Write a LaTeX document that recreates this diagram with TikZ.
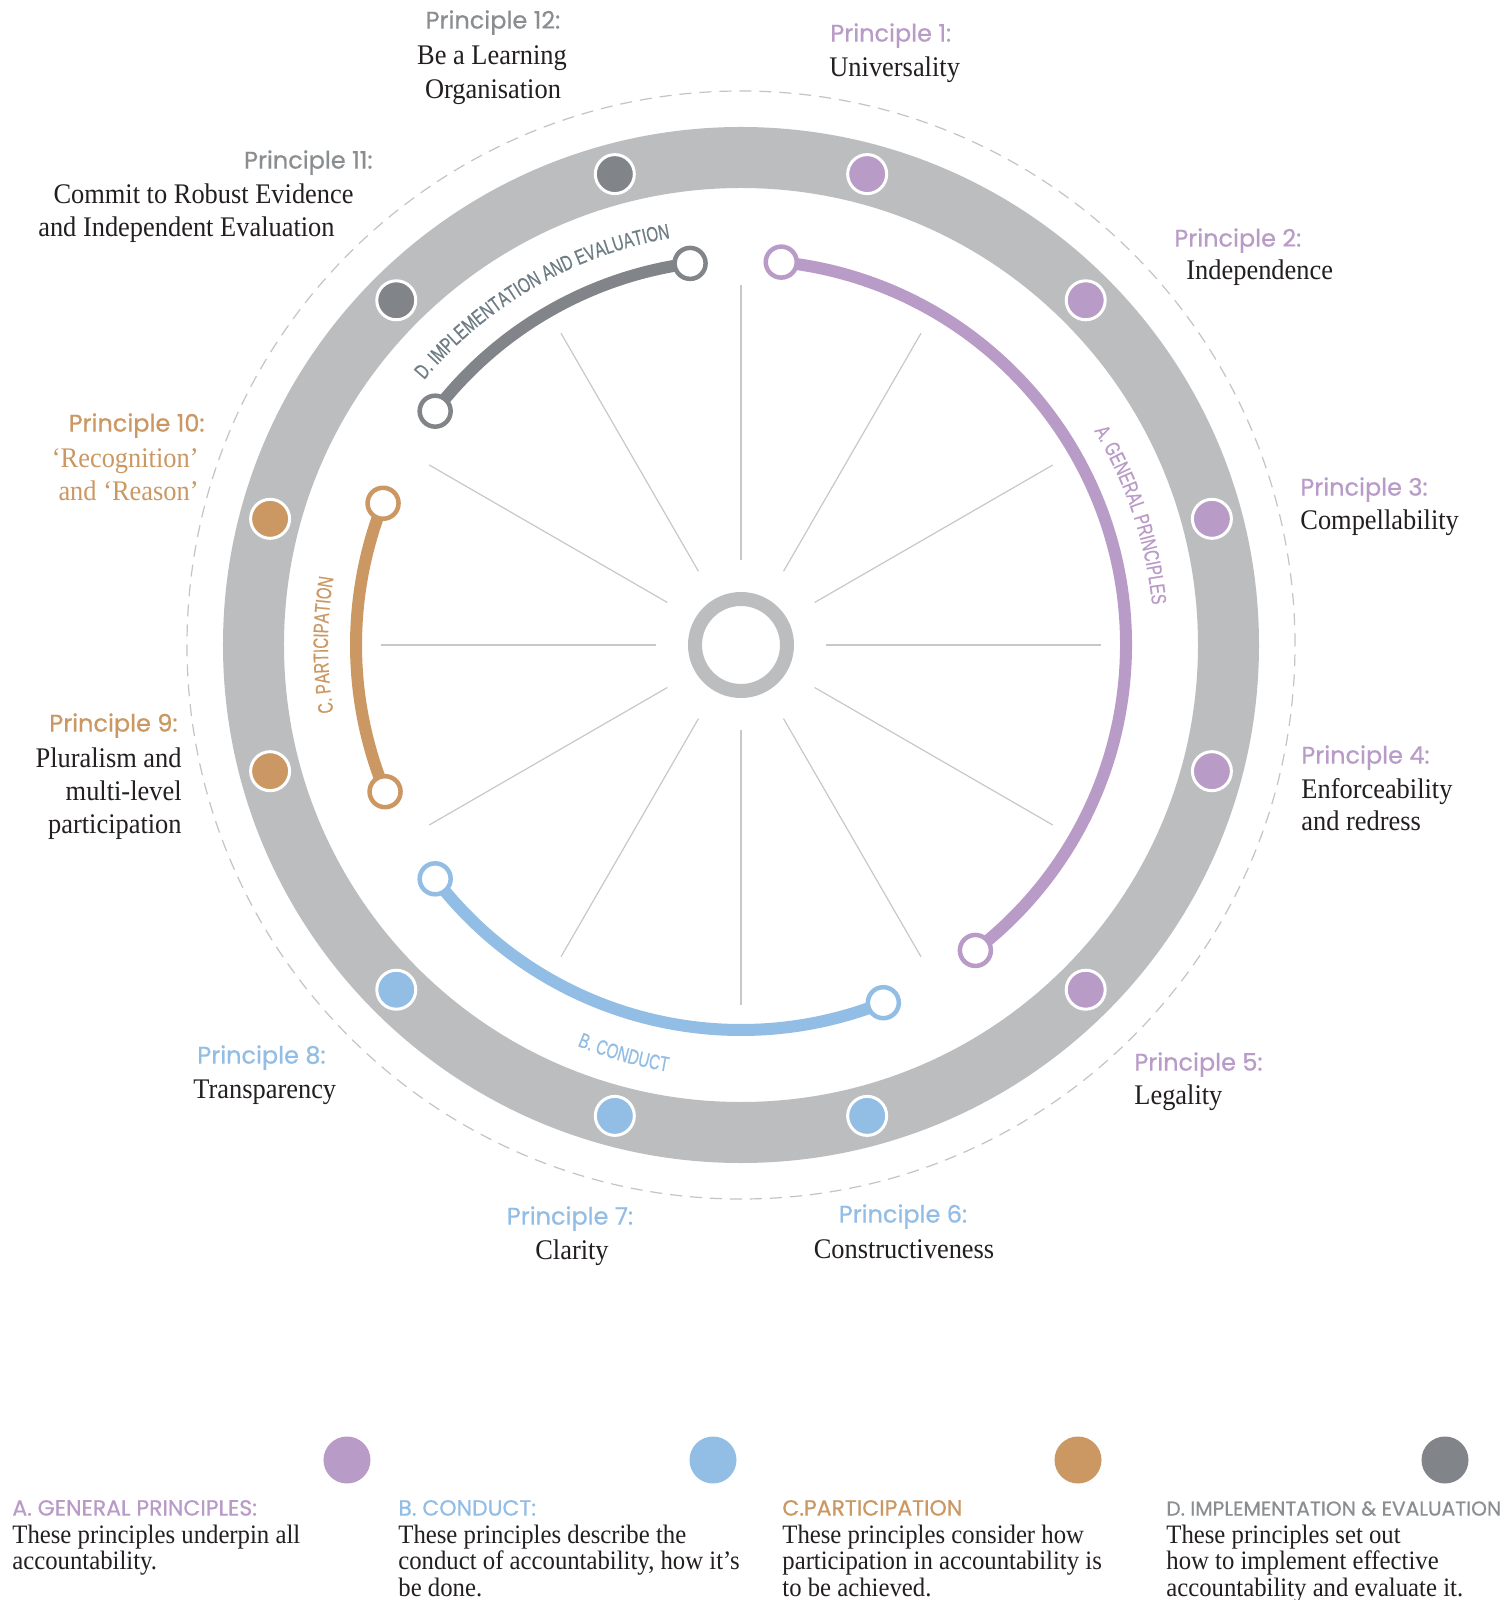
\documentclass[tikz,border=0pt]{standalone}
\usepackage{fontspec}
\setmainfont{Liberation Serif}
\newfontfamily\bodyfont[FakeStretch=0.93]{Liberation Serif}
\newfontfamily\headfont[FakeBold=0.6]{Poppins}
\newfontfamily\arcfont[FakeStretch=0.72, FakeBold=0.5]{Liberation Sans}
\usetikzlibrary{decorations.text}

\definecolor{cA}{HTML}{B99BC8}
\definecolor{cB}{HTML}{92BDE5}
\definecolor{cC}{HTML}{CB9762}
\definecolor{cD}{HTML}{818589}
\definecolor{hD}{HTML}{8B8E91}
\definecolor{dlabel}{HTML}{6E7D84}
\definecolor{ringgray}{HTML}{BCBDBF}
\definecolor{spokegray}{HTML}{C8C8C8}
\definecolor{dashgray}{HTML}{C4C4C4}
\definecolor{ink}{HTML}{231F20}

\tikzset{
  head/.style={font=\headfont\fontsize{12}{14}\selectfont, inner sep=0pt},
  body/.style={font=\bodyfont\fontsize{14.2}{17}\selectfont, text=ink, inner sep=0pt},
  leghead/.style={font=\headfont\fontsize{11}{13}\selectfont, inner sep=0pt, anchor=mid west},
  legbody/.style={font=\bodyfont\fontsize{13.3}{14}\selectfont, text=ink, inner sep=0pt, anchor=mid west},
  ringdot/.style={circle, draw=white, line width=1.5pt, minimum size=19.5pt, inner sep=0pt},
  endcap/.style={circle, fill=white, line width=2.25pt, minimum size=15.5pt, inner sep=0pt},
  legdot/.style={circle, minimum size=23.5pt, inner sep=0pt},
  band/.style={line width=6pt},
  spoke/.style={spokegray, line width=0.6pt},
  arclabel/.style={decorate, decoration={text along path, text align=center}},
}

\begin{document}
\begin{tikzpicture}[x=0.5pt, y=0.5pt]
\fill[white] (-741,-955) rectangle (765,645);
\useasboundingbox (-741,-955) rectangle (765,645);

% outer dashed guide circle
\draw[dashgray, line width=0.6pt, dash pattern=on 6pt off 4pt] (0,0) circle[radius=554];

% grey rim
\draw[ringgray, line width=30.5pt] (0,0) circle[radius=487.5];

% spokes
\foreach \a in {0,30,...,330}
  \draw[spoke] (\a:85) -- (\a:360);

% hub
\node[circle, draw=ringgray, line width=7pt, minimum size=46pt, inner sep=0pt] (hub) at (0,0) {};

% principle dots on the rim
\foreach \n/\a/\c in {1/75/cA, 2/45/cA, 3/15/cA, 4/-15/cA, 5/-45/cA,
                      6/-75/cB, 7/-105/cB, 8/-135/cB,
                      9/-165/cC, 10/165/cC, 11/135/cD, 12/105/cD}
  \node[ringdot, fill=\c] (dot\n) at (\a:487.5) {};

% group arcs
\draw[band, cA] (84:385) arc[start angle=84, end angle=-52.5, radius=385];
\draw[band, cB] (-142.6:385) arc[start angle=-142.6, end angle=-68.3, radius=385];
\draw[band, cC] (158.4:385) arc[start angle=158.4, end angle=202.4, radius=385];
\draw[band, cD] (142.6:385) arc[start angle=142.6, end angle=97.6, radius=385];

\node[endcap, draw=cA] (a1) at (84:385) {};
\node[endcap, draw=cA] (a2) at (-52.5:385) {};
\node[endcap, draw=cB] (b1) at (-142.6:385) {};
\node[endcap, draw=cB] (b2) at (-68.3:385) {};
\node[endcap, draw=cC] (c1) at (158.4:385) {};
\node[endcap, draw=cC] (c2) at (202.4:385) {};
\node[endcap, draw=cD] (e1) at (142.6:385) {};
\node[endcap, draw=cD] (e2) at (97.6:385) {};

% curved group captions
\path[arclabel, decoration={text={|\arcfont\fontsize{10.5}{12}\selectfont\color{cA}|A. GENERAL PRINCIPLES}}]
  (48.4:413) arc[start angle=48.4, end angle=-11.6, radius=413];
\path[arclabel, decoration={text={|\arcfont\fontsize{10.5}{12}\selectfont\color{dlabel}|D. IMPLEMENTATION AND EVALUATION}}]
  (155.5:413) arc[start angle=155.5, end angle=84.5, radius=413];
\path[arclabel, decoration={text={|\arcfont\fontsize{10.5}{12}\selectfont\color{cC}|C. PARTICIPATION}}]
  (205:413) arc[start angle=205, end angle=155, radius=413];
\path[arclabel, decoration={text={|\arcfont\fontsize{10.5}{12}\selectfont\color{cB}|B. CONDUCT}}]
  (-131:433) arc[start angle=-131, end angle=-81, radius=433];

% principle labels
\node[head, text=hD, anchor=mid] (h12) at (-248,621) {Principle 12:};
\node[body, anchor=mid] (t12a) at (-249,585) {Be a Learning};
\node[body, anchor=mid] (t12b) at (-248,551) {Organisation};

\node[head, text=cA, anchor=mid west] (h1) at (89,608) {Principle 1:};
\node[body, anchor=mid west] (t1) at (88,573) {Universality};

\node[head, text=hD, anchor=mid east] (h11) at (-368,481) {Principle 11:};
\node[body, anchor=mid east] (t11a) at (-387,446) {Commit to Robust Evidence};
\node[body, anchor=mid east] (t11b) at (-406,413) {and Independent Evaluation};

\node[head, text=cA, anchor=mid west] (h2) at (433,403) {Principle 2:};
\node[body, anchor=mid west] (t2) at (445,370) {Independence};

\node[head, text=cC, anchor=mid east] (h10) at (-536,218) {Principle 10:};
\node[body, text=cC, anchor=mid east] (t10a) at (-542,182) {‘Recognition’};
\node[body, text=cC, anchor=mid east] (t10b) at (-542,149) {and ‘Reason’};

\node[head, text=cA, anchor=mid west] (h3) at (559,154) {Principle 3:};
\node[body, anchor=mid west] (t3) at (559,120) {Compellability};

\node[head, text=cC, anchor=mid east] (h9) at (-563,-82) {Principle 9:};
\node[body, anchor=mid east] (t9a) at (-559,-118) {Pluralism and};
\node[body, anchor=mid east] (t9b) at (-559,-151) {multi-level};
\node[body, anchor=mid east] (t9c) at (-559,-184) {participation};

\node[head, text=cA, anchor=mid west] (h4) at (560,-114) {Principle 4:};
\node[body, anchor=mid west] (t4a) at (560,-149) {Enforceability};
\node[body, anchor=mid west] (t4b) at (560,-181) {and redress};

\node[head, text=cA, anchor=mid west] (h5) at (393,-421) {Principle 5:};
\node[body, anchor=mid west] (t5) at (393,-455) {Legality};

\node[head, text=cB, anchor=mid west] (h8) at (-544,-414) {Principle 8:};
\node[body, anchor=mid west] (t8) at (-548,-449) {Transparency};

\node[head, text=cB, anchor=mid] (h7) at (-171,-575) {Principle 7:};
\node[body, anchor=mid] (t7) at (-169,-610) {Clarity};

\node[head, text=cB, anchor=mid] (h6) at (162,-573) {Principle 6:};
\node[body, anchor=mid] (t6) at (163,-609) {Constructiveness};

% legend
\node[legdot, fill=cA] (kA) at (-394,-815) {};
\node[legdot, fill=cB] (kB) at (-28,-815) {};
\node[legdot, fill=cC] (kC) at (337,-815) {};
\node[legdot, fill=cD] (kD) at (704,-815) {};

\node[leghead, text=cA] (lA) at (-729,-866) {A. GENERAL PRINCIPLES:};
\node[legbody] (lA1) at (-729,-894) {These principles underpin all};
\node[legbody] (lA2) at (-729,-920) {accountability.};

\node[leghead, text=cB] (lB) at (-343,-866) {B. CONDUCT:};
\node[legbody] (lB1) at (-343,-894) {These principles describe the};
\node[legbody] (lB2) at (-343,-920) {conduct of accountability, how it’s};
\node[legbody] (lB3) at (-343,-947) {be done.};

\node[leghead, text=cC] (lC) at (41,-866) {C.PARTICIPATION};
\node[legbody] (lC1) at (41,-894) {These principles consider how};
\node[legbody] (lC2) at (41,-920) {participation in accountability is};
\node[legbody] (lC3) at (41,-947) {to be achieved.};

\node[leghead, text=hD, font=\headfont\fontsize{10.1}{12}\selectfont] (lD) at (425,-866) {D. IMPLEMENTATION \& EVALUATION};
\node[legbody] (lD1) at (425,-894) {These principles set out};
\node[legbody] (lD2) at (425,-920) {how to implement effective};
\node[legbody] (lD3) at (425,-947) {accountability and evaluate it.};
\end{tikzpicture}
\end{document}
